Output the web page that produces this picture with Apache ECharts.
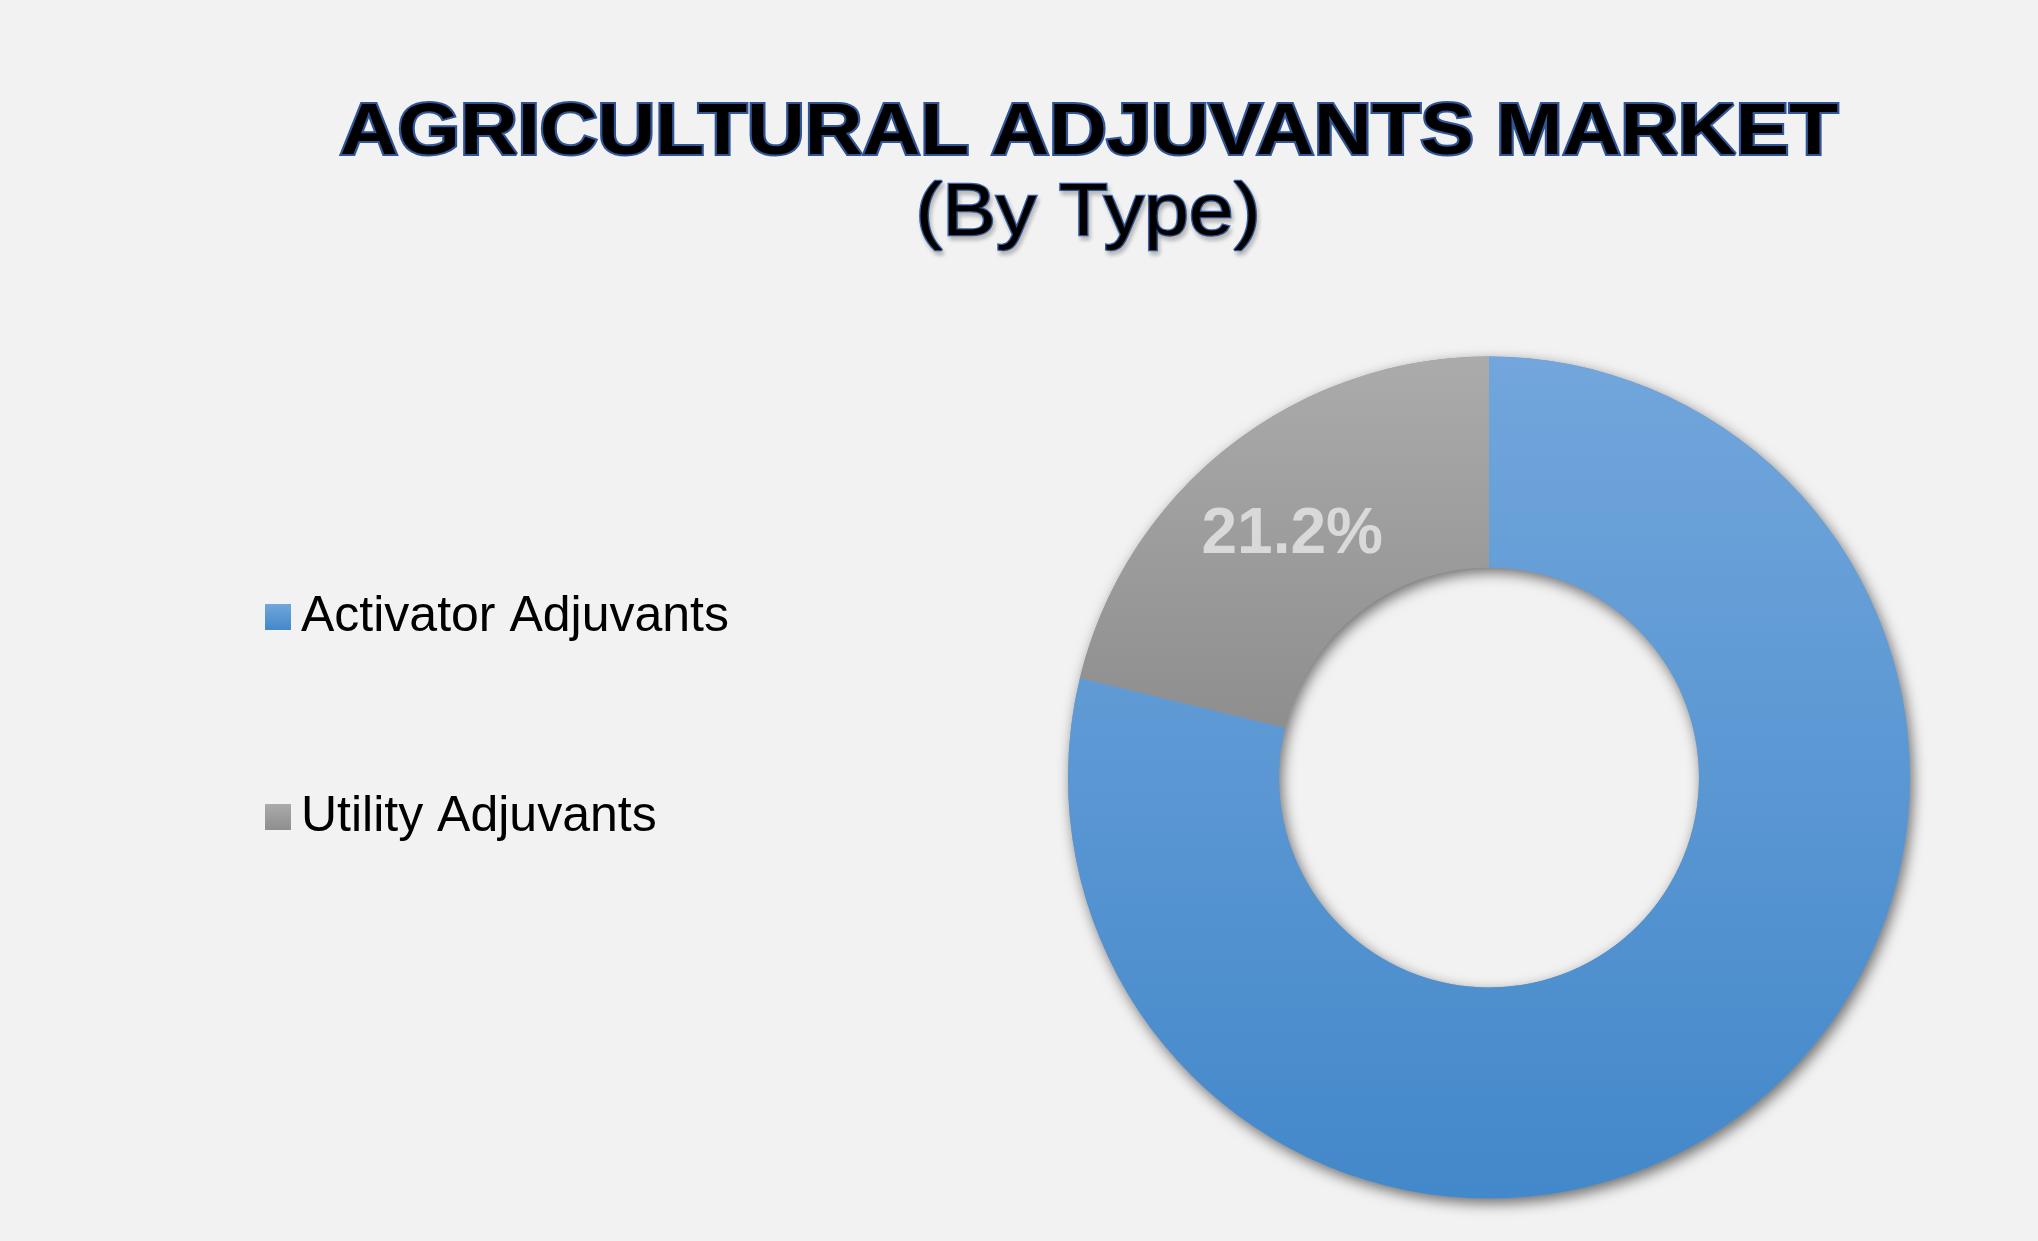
<!DOCTYPE html>
<html>
<head>
<meta charset="utf-8">
<script src="https://cdn.jsdelivr.net/npm/echarts@6/dist/echarts.min.js"></script>
<style>
html,body{margin:0;padding:0;background:#f2f2f2;}
#chart{width:2038px;height:1241px;}
</style>
</head>
<body>
<div id="chart"></div>
<script>
const titleText = 'AGRICULTURAL ADJUVANTS MARKET';
const subtitleText = '(By Type)';
const categories = ['Activator Adjuvants', 'Utility Adjuvants'];
const shares = [78.8, 21.2];
const showLabel = [false, true];

const gradients = [
  ['#72a6dc', '#4388ca'],
  ['#ababab', '#8e8e8e']
];

const chart = echarts.init(document.getElementById('chart'));

const pieData = categories.map((name, i) => ({
  name: name,
  value: shares[i],
  itemStyle: {
    color: new echarts.graphic.LinearGradient(0, 0, 0, 1, [
      { offset: 0, color: gradients[i][0] },
      { offset: 1, color: gradients[i][1] }
    ])
  },
  label: { show: showLabel[i] }
}));

const option = {
  backgroundColor: '#f2f2f2',
  animation: false,
  graphic: [
    {
      type: 'text',
      x: 1089,
      y: 134,
      scaleX: 1.095,
      style: {
        text: titleText,
        fontSize: 73,
        fontWeight: 'bold',
        fontFamily: '"Liberation Sans", Arial, sans-serif',
        fill: '#000000',
        stroke: '#2f5597',
        lineWidth: 4,
        align: 'center',
        verticalAlign: 'middle'
      }
    },
    {
      type: 'text',
      x: 1088,
      y: 215,
      scaleX: 1.09,
      style: {
        text: subtitleText,
        fontSize: 74,
        fontWeight: 'normal',
        fontFamily: '"Liberation Sans", Arial, sans-serif',
        fill: '#000000',
        stroke: '#3560a6',
        lineWidth: 2.5,
        align: 'center',
        verticalAlign: 'middle',
        textShadowColor: 'rgba(0,0,0,0.2)',
        textShadowBlur: 4,
        textShadowOffsetX: 2,
        textShadowOffsetY: 4
      }
    }
  ],
  legend: {
    orient: 'vertical',
    left: 260,
    top: 587,
    itemWidth: 26,
    itemHeight: 26,
    itemGap: 150,
    icon: 'rect',
    data: categories,
    textStyle: {
      fontSize: 50,
      lineHeight: 50,
      fontFamily: '"Liberation Sans", Arial, sans-serif',
      color: '#000000',
      padding: [0, 0, 0, 5]
    }
  },
  series: [
    {
      type: 'pie',
      name: 'shadow',
      silent: true,
      z: 1,
      center: [1489, 777.5],
      radius: [210, 421],
      startAngle: 90,
      label: { show: false },
      labelLine: { show: false },
      itemStyle: {
        color: '#7d9bbb',
        shadowBlur: 14,
        shadowColor: 'rgba(0,0,0,0.55)',
        shadowOffsetX: 3,
        shadowOffsetY: 5
      },
      data: [{ name: '', value: 1 }]
    },
    {
      type: 'pie',
      name: 'By Type',
      z: 2,
      center: [1489, 777.5],
      radius: [210, 421],
      startAngle: 90,
      clockwise: true,
      avoidLabelOverlap: false,
      label: {
        show: true,
        position: 'inside',
        formatter: '{c}%',
        fontSize: 64,
        fontWeight: 'bold',
        fontFamily: '"Liberation Sans", Arial, sans-serif',
        color: '#d9d9d9',
        textBorderWidth: 0,
        offset: [0, 8]
      },
      labelLine: { show: false },
      emphasis: { disabled: true },
      data: pieData
    }
  ]
};

chart.setOption(option);
</script>
</body>
</html>
